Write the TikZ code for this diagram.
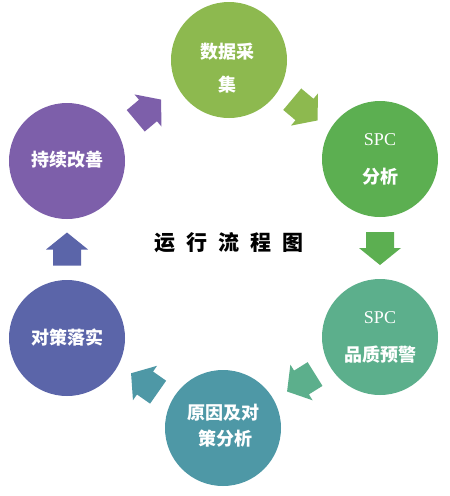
\documentclass[tikz,border=0pt]{standalone}
\usepackage{fontspec}
\setmainfont{Liberation Serif}
\newfontfamily\cjk{Noto Sans CJK SC}
\usetikzlibrary{calc}
\definecolor{cA}{HTML}{8DB94F}
\definecolor{cB}{HTML}{5CAF51}
\definecolor{cC}{HTML}{5CAF8C}
\definecolor{cD}{HTML}{4E98A6}
\definecolor{cE}{HTML}{5B65A9}
\definecolor{cF}{HTML}{7D5FAA}
\tikzset{
  stage/.style={circle, inner sep=0pt, minimum size=116pt},
  lbl/.style={text=white, inner sep=0pt, font=\cjk\bfseries\fontsize{18}{20}\selectfont},
  spclbl/.style={text=white, inner sep=0pt, font=\fontsize{18}{20}\selectfont},
  blockarrow/.pic={\fill[pic actions] (-16,-14) -- (0,-14) -- (0,-21) -- (17,0) -- (0,21) -- (0,14) -- (-16,14) -- cycle;}
}
\begin{document}
\begin{tikzpicture}[x=1pt,y=-1pt]
\useasboundingbox[fill=white] (0,0) rectangle (450,496);
% circles
\node[stage, fill=cA] (c1) at (229,60) {};
\node[stage, fill=cB] (c2) at (380,159) {};
\node[stage, fill=cC] (c3) at (380,337) {};
\node[stage, fill=cD] (c4) at (223,428) {};
\node[stage, fill=cE] (c5) at (67,338) {};
\node[stage, fill=cF] (c6) at (67,161) {};
% labels
\node[lbl] (t1a) at (227,52) {数据采};
\node[lbl] (t1b) at (227,85) {集};
\node[spclbl] (t2a) at (380,140) {SPC};
\node[lbl] (t2b) at (380,177) {分析};
\node[spclbl] (t3a) at (380,318) {SPC};
\node[lbl] (t3b) at (380,355) {品质预警};
\node[lbl] (t4a) at (223,413) {原因及对};
\node[lbl] (t4b) at (225,439) {策分析};
\node[lbl] (t5) at (67,338) {对策落实};
\node[lbl] (t6) at (67,160) {持续改善};
% title
\node[inner sep=0pt, font=\cjk\bfseries\fontsize{21}{23}\selectfont] (title) at (229,243)
  {运\hspace{11pt}行\hspace{11pt}流\hspace{11pt}程\hspace{11pt}图};
% arrows
\pic[fill=cA, rotate=-40] at ($(c1)!0.5!(c2)$) {blockarrow};
\pic[fill=cB, rotate=-90] at ($(c2)!0.5!(c3)$) {blockarrow};
\pic[fill=cC, rotate=-148] at ($(c3)!0.5!(c4)$) {blockarrow};
\pic[fill=cD, rotate=145] at ($(c4)!0.5!(c5)$) {blockarrow};
\pic[fill=cE, rotate=90] at ($(c5)!0.5!(c6)$) {blockarrow};
\pic[fill=cF, rotate=40] at ($(c6)!0.5!(c1)$) {blockarrow};
\end{tikzpicture}
\end{document}
